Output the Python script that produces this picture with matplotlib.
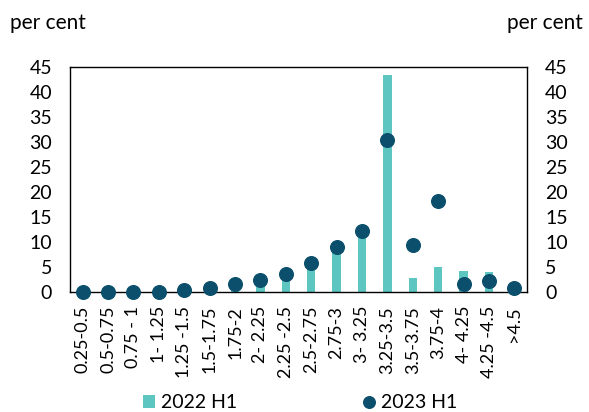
import matplotlib
matplotlib.use("Agg")
from matplotlib import pyplot as plt
import numpy as np

plt.rcParams["font.family"] = ["Lato", "DejaVu Sans"]

BAR_COLOR = "#5EC6C1"
DOT_COLOR = "#0B4F6C"

categories = ["0.25-0.5", "0.5-0.75", "0.75 - 1", "1- 1.25", "1.25 -1.5",
              "1.5-1.75", "1.75-2", "2- 2.25", "2.25 -2.5", "2.5-2.75",
              "2.75-3", "3- 3.25", "3.25-3.5", "3.5-3.75", "3.75-4",
              "4- 4.25", "4.25 -4.5", ">4.5"]
h1_2022 = [0.0, 0.0, 0.0, 0.1, 0.2, 0.4, 0.8, 1.8, 3.2, 5.3,
           8.8, 12.0, 43.4, 2.9, 5.0, 4.3, 4.0, 0.0]
h1_2023 = [0.0, 0.0, 0.0, 0.0, 0.45, 0.8, 1.6, 2.5, 3.7, 5.9,
           9.1, 12.3, 30.4, 9.4, 18.2, 1.7, 2.2, 0.9]
yticks = [0, 5, 10, 15, 20, 25, 30, 35, 40, 45]


def main():
    fig = plt.figure(figsize=(5.89, 4.12), dpi=100)
    ax = fig.add_axes([70 / 589, 1 - 292 / 412, 457 / 589, 225 / 412])
    x = np.arange(len(categories))

    bars = ax.bar(x, h1_2022, width=0.33, color=BAR_COLOR, label="2022 H1", zorder=2)
    dots, = ax.plot(x, h1_2023, "o", color=DOT_COLOR, markersize=9.8, label="2023 H1",
                    clip_on=False, zorder=3)

    ax.set_xlim(-0.5, len(categories) - 0.5)
    ax.set_ylim(0, 45)
    ax.set_yticks(yticks)
    ax.set_xticks(x)
    ax.set_xticklabels(categories, rotation=90, fontsize=13)
    ax.tick_params(axis="y", length=0, labelsize=14, pad=13)
    ax.tick_params(axis="x", length=0, pad=10)
    for s in ax.spines.values():
        s.set_color("black")
        s.set_linewidth(1)

    ax2 = ax.twinx()
    ax2.set_ylim(0, 45)
    ax2.set_yticks(yticks)
    ax2.tick_params(axis="y", length=0, labelsize=14, pad=13)
    for s in ax2.spines.values():
        s.set_visible(False)

    fig.text(10 / 589, 1 - 23 / 412, "per cent", fontsize=15, va="center", ha="left")
    fig.text(583 / 589, 1 - 23 / 412, "per cent", fontsize=15, va="center", ha="right")

    fig.legend([bars, dots], ["2022 H1", "2023 H1"], loc="center",
               bbox_to_anchor=(300 / 589, 1 - 403 / 412), ncol=2,
               frameon=False, fontsize=14, columnspacing=6.5, handlelength=0.6,
               handleheight=0.6, handletextpad=0.3, markerscale=0.85)

    fig.savefig("out.png", dpi=100)


if __name__ == '__main__':
    main()
